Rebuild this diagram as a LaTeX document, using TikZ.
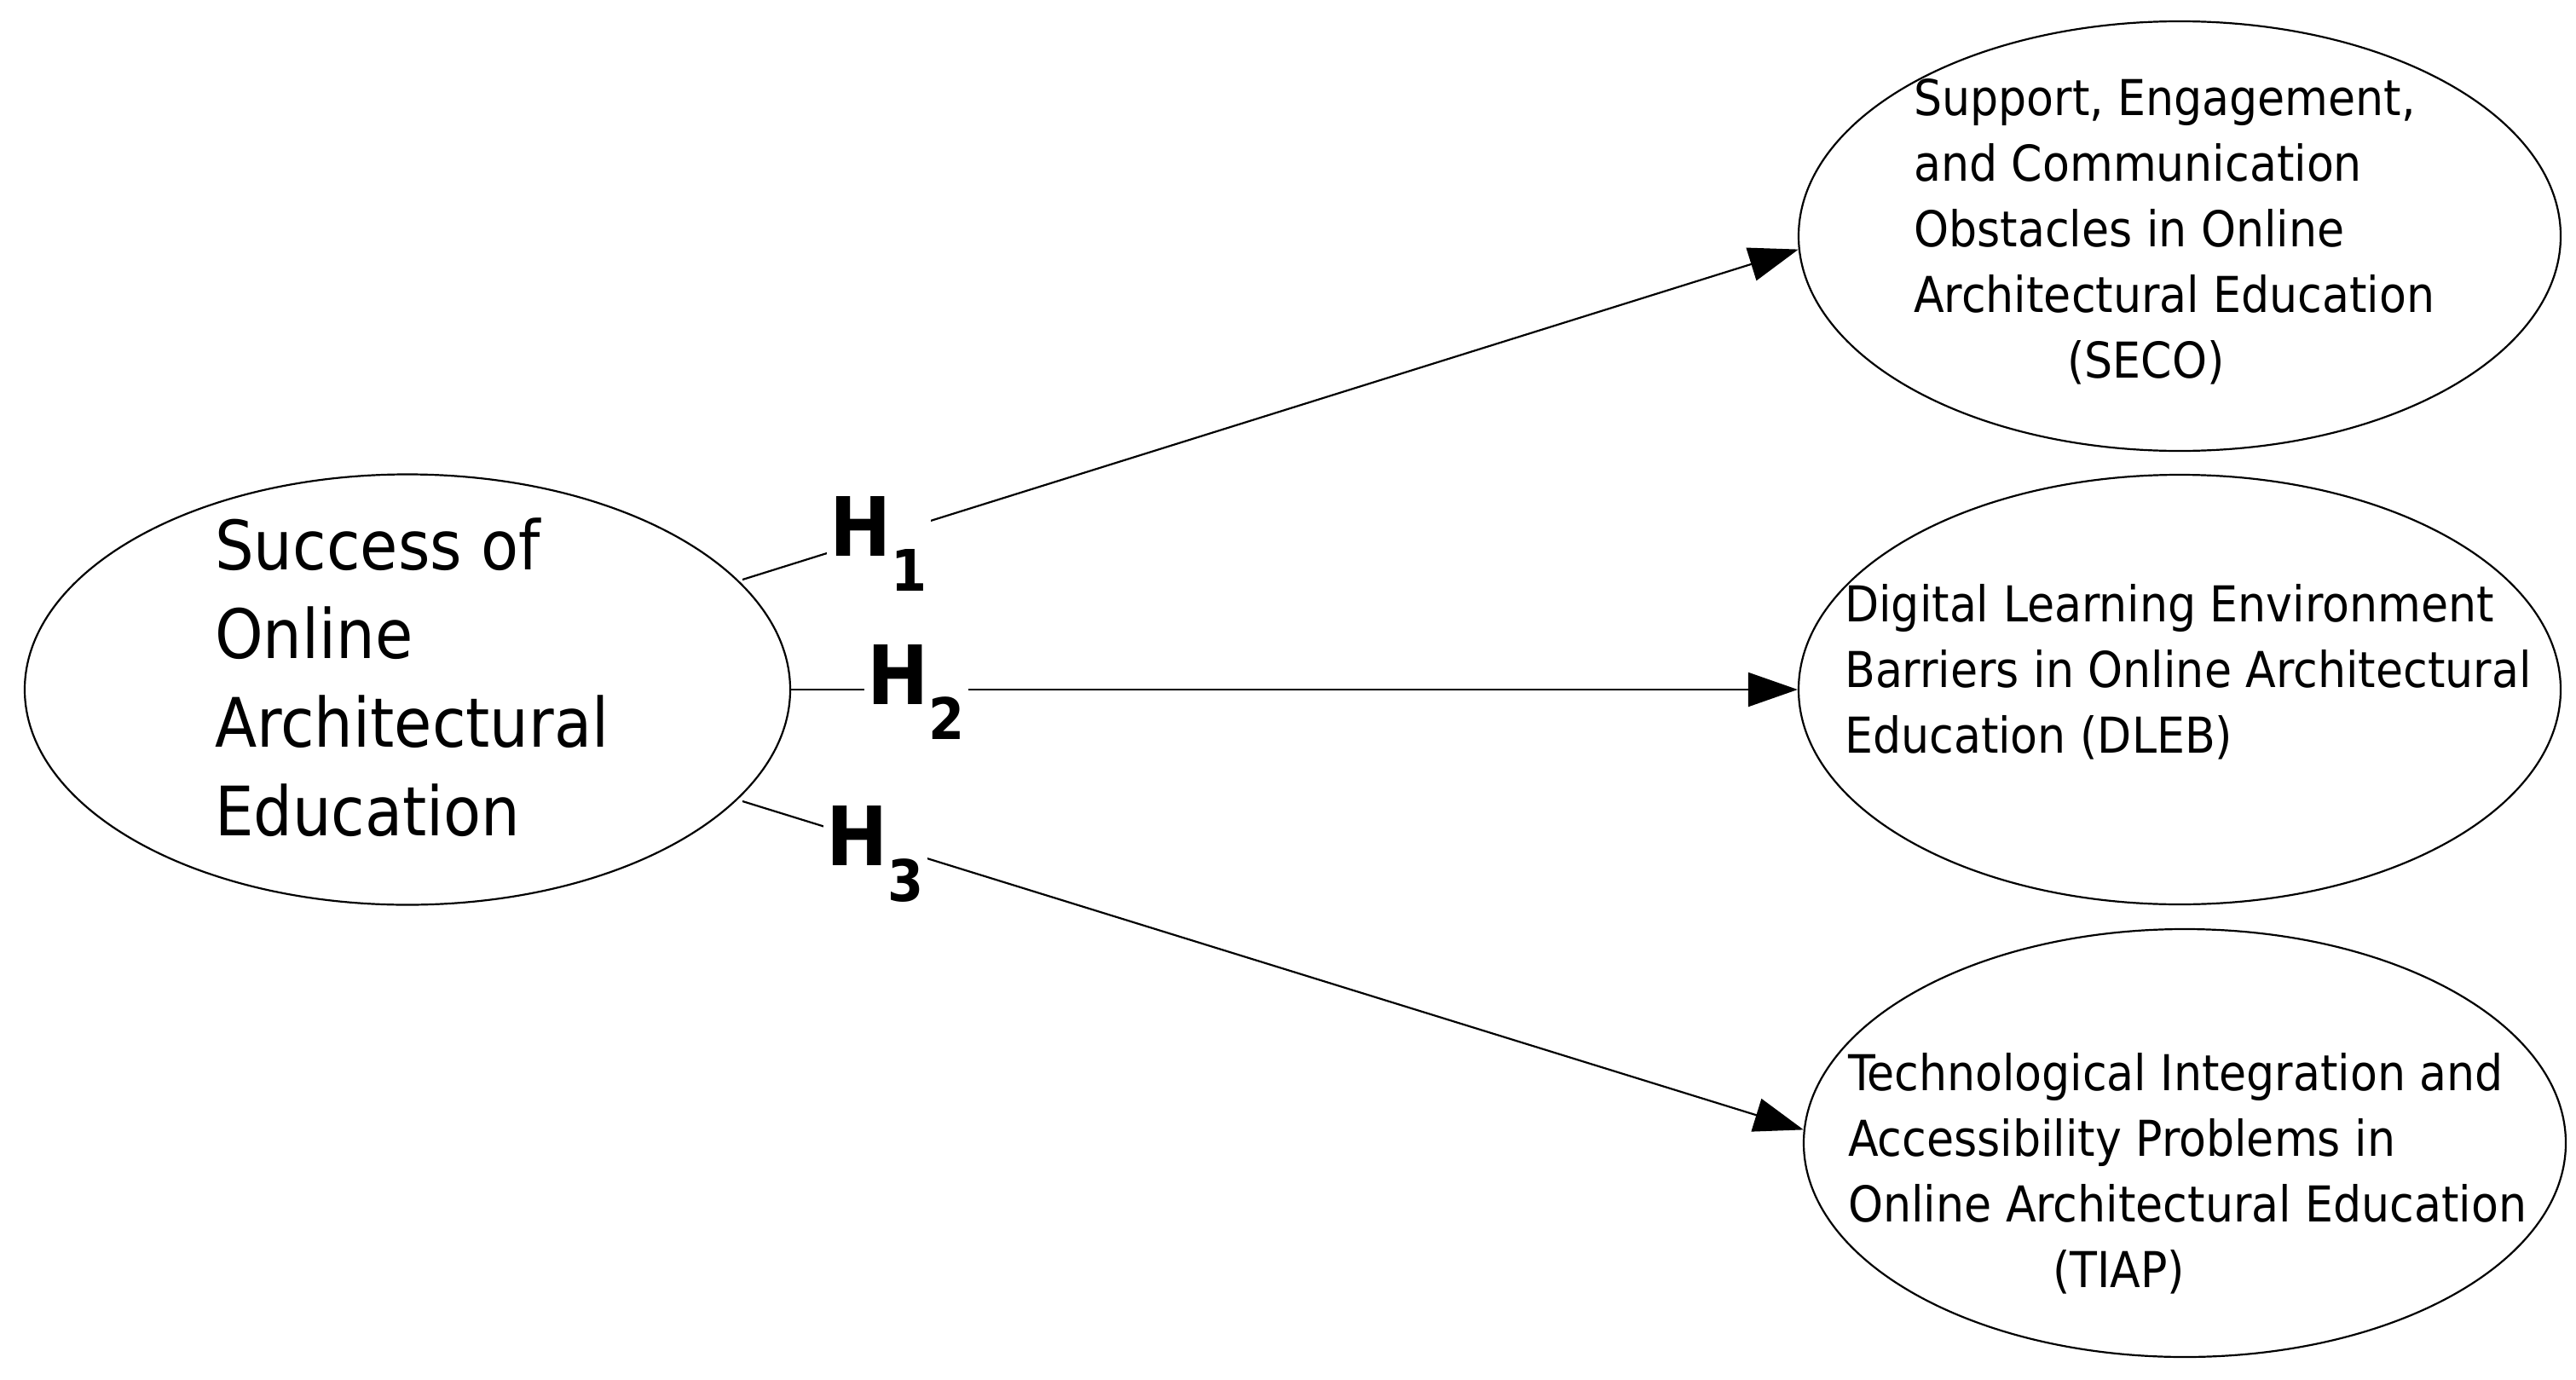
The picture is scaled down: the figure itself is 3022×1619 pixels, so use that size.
\documentclass[tikz,border=0pt]{standalone}
\usepackage{fontspec}
\setmainfont{DejaVu Sans Condensed}
\usetikzlibrary{shapes.geometric,arrows.meta}
\begin{document}
\begin{tikzpicture}[x=1pt,y=-1pt,
  ell/.style={ellipse,draw,line width=2.2pt,minimum width=#1,inner sep=0pt},
  lbl/.style={font=\fontsize{58}{77}\selectfont,align=left,anchor=north west,inner sep=0pt},
  arr/.style={line width=2.2pt,-{Triangle[length=58pt,width=40pt]}},
  hl/.style={font=\fontsize{96}{96}\selectfont\bfseries,fill=white,inner sep=4pt}]
\useasboundingbox (0,0) rectangle (3022,1619);
\node[ell=898pt,minimum height=505pt] (s) at (478,809) {};
\node[ell=894pt,minimum height=504pt] (a) at (2557,277) {};
\node[ell=894pt,minimum height=504pt] (b) at (2557,809) {};
\node[ell=894pt,minimum height=502pt] (c) at (2563,1341) {};
\node[font=\fontsize{80}{104}\selectfont,align=left,anchor=north west,inner sep=0pt] (st) at (252,608) {Success of\\Online\\Architectural\\Education};
\node[lbl] (at) at (2245,92) {Support, Engagement,\\and Communication\\Obstacles in Online\\Architectural Education\\\hspace{180pt}(SECO)};
\node[lbl] (bt) at (2164,685) {Digital Learning Environment\\Barriers in Online Architectural\\Education (DLEB)};
\node[lbl] (ct) at (2168,1235) {Technological Integration and\\Accessibility Problems in\\Online Architectural Education\\\hspace{240pt}(TIAP)};
\coordinate (s1) at (871,680);
\coordinate (s2) at (927,809);
\coordinate (s3) at (871,940);
\draw[arr] (s1) -- (a.182);
\draw[arr] (s2) -- (b.west);
\draw[arr] (s3) -- (c.178);
\node[hl] (h1) at (1031,638) {H$_{\mathbf 1}$};
\node[hl] (h2) at (1075,812) {H$_{\mathbf 2}$};
\node[hl] (h3) at (1027,1002) {H$_{\mathbf 3}$};
\end{tikzpicture}
\end{document}
